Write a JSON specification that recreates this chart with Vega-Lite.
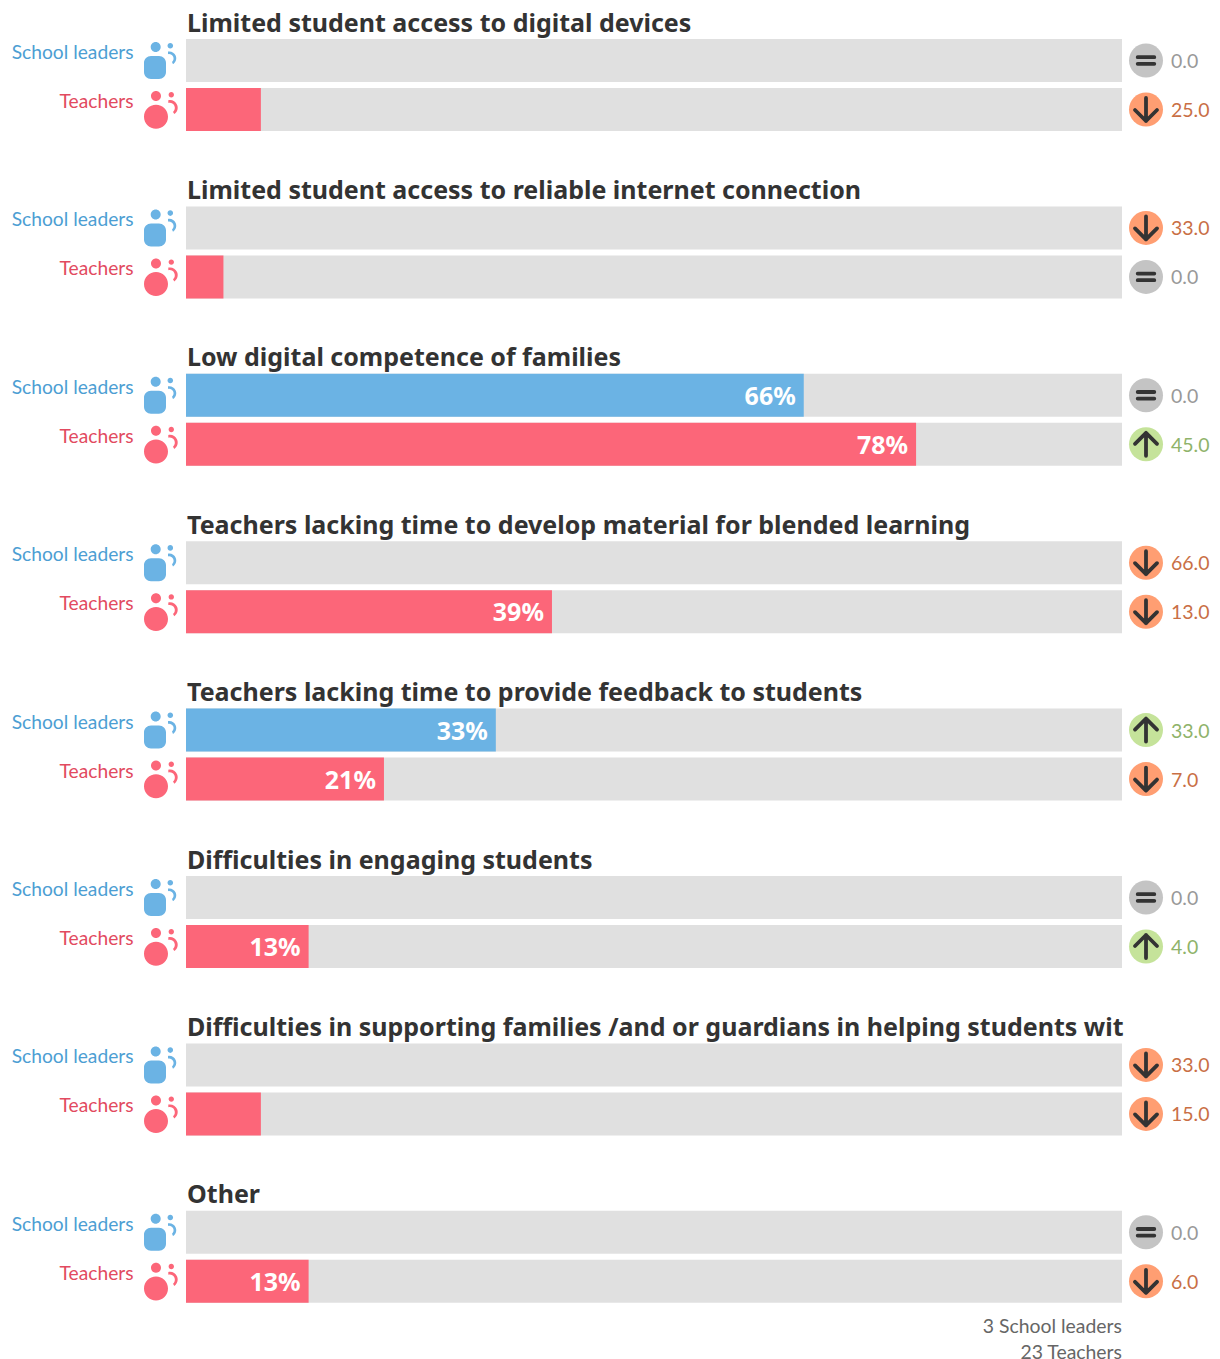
{"$schema":"https://vega.github.io/schema/vega-lite/v6.json","padding":{"left":11,"top":11,"right":0,"bottom":0},"background":"white","data":{"values":[
{"question":"Limited student access to digital devices","group":"School leaders","share":0,"change":0.0,"direction":"same"},
{"question":"Limited student access to digital devices","group":"Teachers","share":0.08,"change":25.0,"direction":"down"},
{"question":"Limited student access to reliable internet connection","group":"School leaders","share":0,"change":33.0,"direction":"down"},
{"question":"Limited student access to reliable internet connection","group":"Teachers","share":0.04,"change":0.0,"direction":"same"},
{"question":"Low digital competence of families","group":"School leaders","share":0.66,"change":0.0,"direction":"same"},
{"question":"Low digital competence of families","group":"Teachers","share":0.78,"change":45.0,"direction":"up"},
{"question":"Teachers lacking time to develop material for blended learning","group":"School leaders","share":0,"change":66.0,"direction":"down"},
{"question":"Teachers lacking time to develop material for blended learning","group":"Teachers","share":0.391,"change":13.0,"direction":"down"},
{"question":"Teachers lacking time to provide feedback to students","group":"School leaders","share":0.331,"change":33.0,"direction":"up"},
{"question":"Teachers lacking time to provide feedback to students","group":"Teachers","share":0.2115,"change":7.0,"direction":"down"},
{"question":"Difficulties in engaging students","group":"School leaders","share":0,"change":0.0,"direction":"same"},
{"question":"Difficulties in engaging students","group":"Teachers","share":0.131,"change":4.0,"direction":"up"},
{"question":"Difficulties in supporting families /and or guardians in helping students with","group":"School leaders","share":0,"change":33.0,"direction":"down"},
{"question":"Difficulties in supporting families /and or guardians in helping students with","group":"Teachers","share":0.08,"change":15.0,"direction":"down"},
{"question":"Other","group":"School leaders","share":0,"change":0.0,"direction":"same"},
{"question":"Other","group":"Teachers","share":0.131,"change":6.0,"direction":"down"}
]},
"title":{"text":["3 School leaders","23 Teachers"],"orient":"bottom","anchor":"end","frame":"group","font":"Lato","fontSize":19.4,"fontWeight":"normal","color":"#666666","lineHeight":26,"offset":15,"dx":936},
"facet":{"row":{"field":"question","type":"nominal","sort":["Limited student access to digital devices","Limited student access to reliable internet connection","Low digital competence of families","Teachers lacking time to develop material for blended learning","Teachers lacking time to provide feedback to students","Difficulties in engaging students","Difficulties in supporting families /and or guardians in helping students with","Other"],"header":null}},
"spacing":46.4,
"spec":{"width":936,"height":92,
"encoding":{"y":{"field":"group","type":"nominal","title":null,"scale":{"domain":["School leaders","Teachers"],"paddingInner":0.1224,"paddingOuter":0},
"axis":{"domain":false,"ticks":false,"labelPadding":11,"labelOffset":-7.5,"labelFont":"Lato","labelFontSize":19.2,"labelLimit":200,"labelColor":{"expr":"datum.value=='Teachers'?'#e24a60':'#4c9ed3'"}}}},
"layer":[
{"mark":{"type":"bar","color":"#e0e0e0"},"encoding":{"x":{"datum":1,"type":"quantitative","scale":{"domain":[0,1],"nice":false},"axis":null}}},
{"mark":{"type":"bar"},"encoding":{"x":{"field":"share","type":"quantitative","axis":null},"color":{"field":"group","type":"nominal","legend":null,"scale":{"domain":["School leaders","Teachers"],"range":["#6bb3e4","#fc6679"]}}}},
{"transform":[{"filter":"datum.share>=0.1"}],"mark":{"type":"text","align":"right","baseline":"middle","xOffset":-8,"yOffset":1.5,"color":"white","font":"Noto Sans","fontWeight":"bold","fontSize":25},"encoding":{"x":{"field":"share","type":"quantitative"},"text":{"field":"share","format":".0%"}}},
{"mark":{"type":"point","filled":true,"opacity":1,"size":4,"xOffset":-30},"encoding":{"x":{"datum":0,"type":"quantitative"},"shape":{"field":"group","type":"nominal","legend":null,"scale":{"domain":["School leaders","Teachers"],"range":[
"M-5 -4.5H3A7 7 0 0 1 10 2.5V11.5A7 7 0 0 1 3 18.5H-5A7 7 0 0 1 -12 11.5V2.5A7 7 0 0 1 -5 -4.5ZM-5.3 -13.5A5 5 0 1 0 4.7 -13.5A5 5 0 1 0 -5.3 -13.5ZM11.5 -14.8A2.8 2.8 0 1 0 17.1 -14.8A2.8 2.8 0 1 0 11.5 -14.8ZM12 -9A7 7 0 0 1 17 3.8L16 1.5A4.5 4.5 0 0 0 12 -6.3Z",
"M-12 7.2A12 12 0 1 0 12 7.2A12 12 0 1 0 -12 7.2ZM-5 -13.5A5 5 0 1 0 5 -13.5A5 5 0 1 0 -5 -13.5ZM12.6 -14.8A2.7 2.7 0 1 0 18 -14.8A2.7 2.7 0 1 0 12.6 -14.8ZM12.3 -9.3A7.7 7.7 0 0 1 18.3 4.6L17 2.4A5.2 5.2 0 0 0 12.3 -6.6Z"]}},"color":{"field":"group","type":"nominal","legend":null,"scale":{"domain":["School leaders","Teachers"],"range":["#6bb3e4","#fc6679"]}}}},
{"mark":{"type":"point","filled":true,"opacity":1,"size":1156,"shape":"circle","xOffset":24},"encoding":{"x":{"datum":1,"type":"quantitative"},"color":{"field":"direction","type":"nominal","legend":null,"scale":{"domain":["down","up","same"],"range":["#ff9e72","#c5e39a","#c4c4c4"]}}}},
{"mark":{"type":"point","filled":false,"opacity":1,"size":4,"xOffset":24,"stroke":"#333333","strokeWidth":3.8,"strokeCap":"round","strokeJoin":"round"},"encoding":{"x":{"datum":1,"type":"quantitative"},"shape":{"field":"direction","type":"nominal","legend":null,"scale":{"domain":["down","up","same"],"range":["M0 -11.5V11.5M-11 0.5L0 11.5L11 0.5","M0 11.5V-11.5M-11 -0.5L0 -11.5L11 -0.5","M-8.3 -3.3H8.3M-8.3 3.3H8.3"]}}}},
{"mark":{"type":"text","align":"left","baseline":"middle","xOffset":49,"yOffset":1.5,"font":"Lato","fontSize":19.5},"encoding":{"x":{"datum":1,"type":"quantitative"},"text":{"field":"change","format":".1f"},"color":{"field":"direction","type":"nominal","legend":null,"scale":{"domain":["down","up","same"],"range":["#c96f45","#8fb36a","#999999"]}}}},
{"transform":[{"filter":"datum.group=='School leaders'"}],"mark":{"type":"text","align":"left","baseline":"middle","xOffset":1,"yOffset":-37,"font":"Noto Sans","fontWeight":"bold","fontSize":25,"color":"#333333","limit":942,"ellipsis":"\u200b"},"encoding":{"x":{"datum":0,"type":"quantitative"},"text":{"field":"question"}}}
],
"resolve":{"scale":{"color":"independent","shape":"independent"}}},
"config":{"view":{"stroke":null}}}
